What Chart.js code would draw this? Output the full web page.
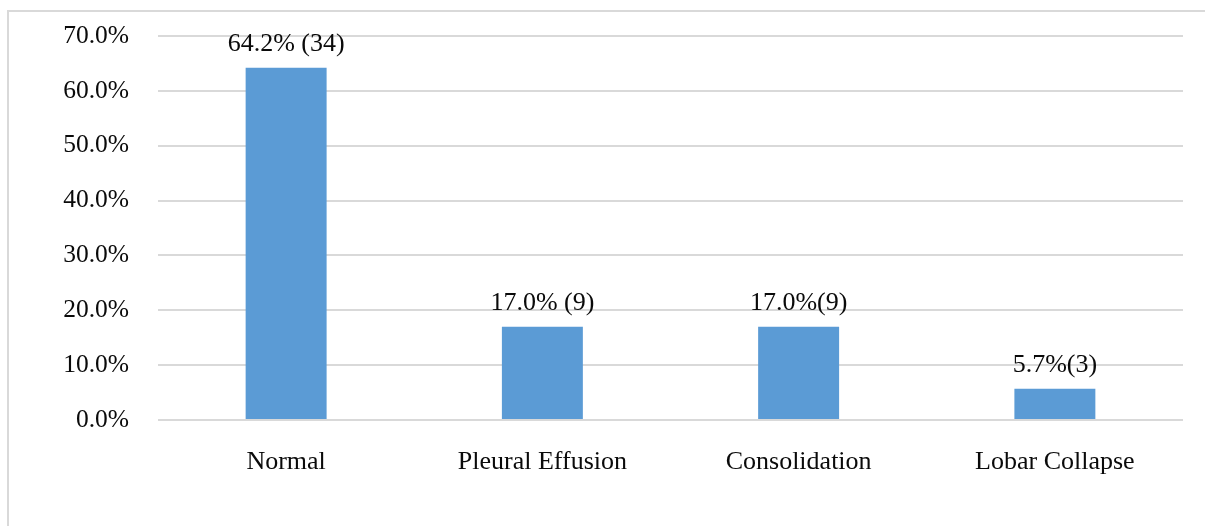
<!DOCTYPE html>
<html>
<head>
<meta charset="utf-8">
<script src="https://cdn.jsdelivr.net/npm/chart.js@4.4.1/dist/chart.umd.min.js"></script>
<style>
  html, body { margin: 0; padding: 0; background: #fff; overflow: hidden; }
  #wrap { position: relative; width: 1205px; height: 526px; }
  #frame { position: absolute; left: 7px; top: 10px; width: 1300px; height: 600px;
           border-left: 2px solid #d9d9d9; border-top: 2px solid #d9d9d9; pointer-events: none; }
</style>
</head>
<body>
<div id="wrap">
  <canvas id="c" width="1205" height="526"></canvas>
  <div id="frame"></div>
</div>
<script>
const categories = ["Normal", "Pleural Effusion", "Consolidation", "Lobar Collapse"];
const percentages = [64.2, 17.0, 17.0, 5.7];
const valueLabels = ["64.2% (34)", "17.0% (9)", "17.0%(9)", "5.7%(3)"];
const yTicks = [0, 10, 20, 30, 40, 50, 60, 70];

const FONT = "'Liberation Serif', 'Times New Roman', serif";
const TEXT = "#0a0a0a";

const labelPlugin = {
  id: 'valueLabels',
  afterDatasetsDraw(chart) {
    const ctx = chart.ctx;
    const meta = chart.getDatasetMeta(0);
    ctx.save();
    ctx.font = "26px " + FONT;
    ctx.fillStyle = TEXT;
    ctx.textAlign = 'center';
    ctx.textBaseline = 'alphabetic';
    meta.data.forEach((bar, i) => {
      ctx.fillText(valueLabels[i], bar.x, bar.y - 16.5);
    });
    ctx.restore();
  }
};

new Chart(document.getElementById('c'), {
  type: 'bar',
  data: {
    labels: categories,
    datasets: [{
      data: percentages,
      backgroundColor: '#5b9bd5',
      borderWidth: 0,
      categoryPercentage: 1.0,
      barPercentage: 0.316
    }]
  },
  options: {
    responsive: false,
    animation: false,
    devicePixelRatio: 1,
    layout: { padding: { top: 36, right: 22, left: 0, bottom: 0 } },
    plugins: { legend: { display: false }, tooltip: { enabled: false } },
    scales: {
      y: {
        min: 0, max: 70,
        afterFit(scale) { scale.width = 158; scale.paddingTop = 0; scale.paddingBottom = 0; },
        afterBuildTicks(scale) { scale.ticks = yTicks.map(v => ({ value: v })); },
        border: { display: false },
        grid: { color: '#d9d9d9', lineWidth: 2, drawTicks: false },
        ticks: {
          padding: 29,
          color: TEXT,
          font: { family: FONT, size: 25.5 },
          callback: v => v.toFixed(1) + '%'
        }
      },
      x: {
        afterFit(scale) { scale.height = 106; scale.paddingLeft = 0; scale.paddingRight = 0; },
        border: { display: false },
        grid: { display: false, drawTicks: false },
        ticks: {
          padding: 27,
          color: TEXT,
          font: { family: FONT, size: 26 },
          maxRotation: 0
        }
      }
    }
  },
  plugins: [labelPlugin]
});
</script>
</body>
</html>
